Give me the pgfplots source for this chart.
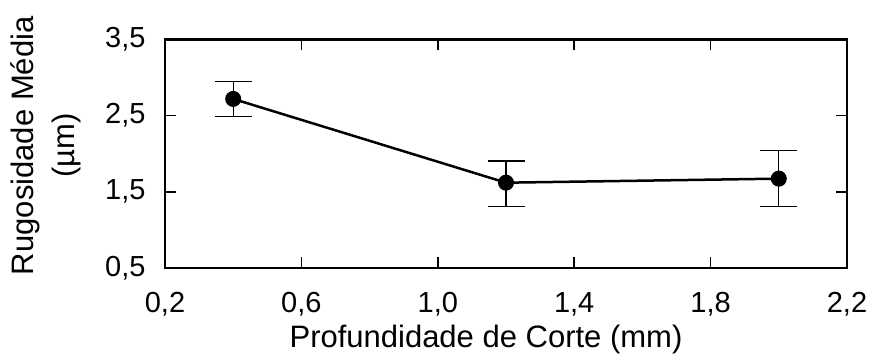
\documentclass[border=0pt]{standalone}
\usepackage{fontspec}
\setmainfont{Liberation Sans}
\usepackage{pgfplots}
\pgfplotsset{compat=1.18}
\begin{document}
\begin{tikzpicture}
\begin{axis}[name=ax, scale only axis, width=682pt, height=228.5pt,
  xmin=0.2, xmax=2.2, ymin=0.5, ymax=3.5,
  xtick={0.2,0.6,1.0,1.4,1.8,2.2}, ytick={0.5,1.5,2.5,3.5},
  tick align=inside, major tick length=11pt,
  tick style={line width=1.5pt, black},
  axis line style={line width=2.5pt},
  tick label style={font=\fontsize{29}{34}\selectfont,
    /pgf/number format/use comma, /pgf/number format/fixed,
    /pgf/number format/fixed zerofill, /pgf/number format/precision=1,
    /pgf/number format/assume math mode=true},
  xticklabel style={yshift=-21pt},
  yticklabel style={xshift=-16pt},
  xlabel={Profundidade de Corte (mm)},
  xlabel style={font=\fontsize{31}{36}\selectfont, yshift=-2pt, xshift=-20pt},
  ylabel={Rugosidade Média\\(µm)},
  ylabel style={align=center, font=\fontsize{31}{41}\selectfont, yshift=17pt, xshift=8pt},
]
\addplot[black, line width=2.5pt, mark=*, mark size=7.5pt,
  mark options={solid, fill=black, line width=1pt},
  error bars/.cd, y dir=both, y explicit,
  error bar style={line width=1.2pt},
  error mark options={rotate=90, mark size=18.5pt, line width=1.2pt}]
  coordinates {
  (0.4,2.72) += (0,0.226) -= (0,0.228)
  (1.2,1.62) += (0,0.285) -= (0,0.31)
  (2.0,1.673) += (0,0.367) -= (0,0.363)
  };
\end{axis}
\path[use as bounding box] ([xshift=-165pt,yshift=-88pt]ax.south west) rectangle ([xshift=24pt,yshift=39.5pt]ax.north east);
\end{tikzpicture}
\end{document}
